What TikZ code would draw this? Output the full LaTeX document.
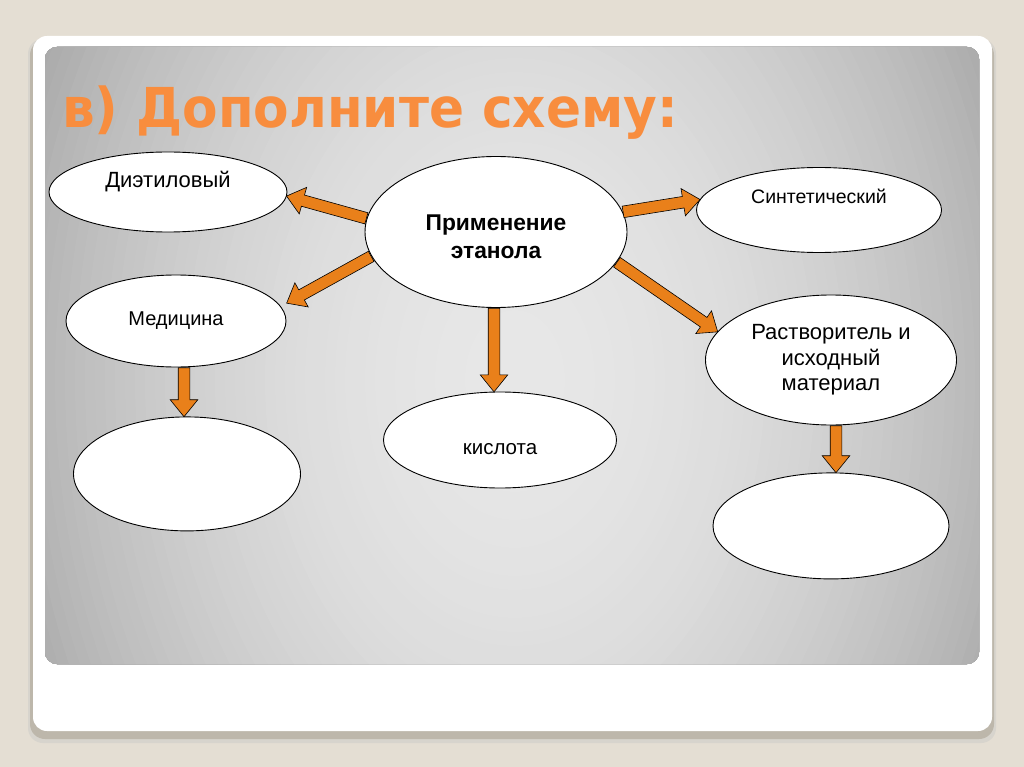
\documentclass[tikz,border=0pt]{standalone}
\usepackage{fontspec}
\setmainfont{Liberation Sans}
\newfontfamily\titlefont[FakeStretch=0.94]{DejaVu Sans}
\usetikzlibrary{shapes, arrows.meta, positioning, calc}

\definecolor{slidebg}{HTML}{E4DED3}
\definecolor{cardshadow}{HTML}{BDB7AB}
\definecolor{arroworange}{HTML}{E9801A}
\definecolor{titleorange}{HTML}{F88D3E}
\definecolor{panelA}{HTML}{E7E7E7}
\definecolor{panelD}{HTML}{A4A4A4}

\tikzset{
  bubble/.style={draw, ellipse, fill=white, line width=0.9pt,
    inner sep=0pt, align=center, font=\fontsize{20}{25.5}\selectfont},
  blockarr/.style={single arrow, draw=black, line width=0.6pt,
    fill=arroworange, inner xsep=0pt, inner ysep=5.5pt, minimum width=0pt,
    single arrow head extend=8pt, single arrow tip angle=78}
}

% block arrow from #1 to #2
\newcommand\blockarrow[2]{%
  \path let \p1=(#1), \p2=(#2),
    \n1={atan2(\y2-\y1,\x2-\x1)}, \n2={veclen(\x2-\x1,\y2-\y1)} in
    node[blockarr, anchor=tail, rotate=\n1, minimum height=\n2] at (\p1) {};}

\begin{document}
\begin{tikzpicture}[x=1pt, y=-1pt]
\useasboundingbox (0,0) rectangle (1024,767);

% slide
\fill[slidebg] (0,0) rectangle (1024,767);
\fill[cardshadow!60, rounded corners=15pt] (28,39) rectangle (996,743);
\fill[cardshadow, rounded corners=15pt] (30,40) rectangle (994,739);
\fill[white, rounded corners=14pt] (33,36) rectangle (992,731);
\begin{scope}
  \clip[rounded corners=12pt] (45,47) rectangle (979,664);
  \fill[panelD] (45,47) rectangle (979,664);
  \foreach \i in {0,...,61} {
    \pgfmathsetmacro\r{620-10*\i}
    \pgfmathsetmacro\p{min(100,100*(\r/560)^2)}
    \fill[panelD!\p!panelA] (515,380) ellipse [x radius=\r, y radius=1.4*\r];
  }
\end{scope}

\node[anchor=base west, inner sep=0pt, text=titleorange,
  font=\titlefont\bfseries\fontsize{55}{60}\selectfont] (title) at (62,128)
  {в) Дополните схему:};

\node[bubble, minimum width=262pt, minimum height=151pt,
  font=\bfseries\fontsize{22.8}{28}\selectfont] (main) at (496,232)
  {\rule{0pt}{26pt}Применение\\этанола};

\node[bubble, minimum width=238pt, minimum height=80pt,
  font=\fontsize{22}{25.5}\selectfont] (diet) at (168,192)
  {Диэтиловый\\~};
\node[bubble, minimum width=220pt, minimum height=92pt] (med) at (176,321)
  {Медицина};
\node[bubble, minimum width=227pt, minimum height=114pt,
  below=49pt of med, xshift=11pt] (medout) {};

\node[bubble, minimum width=245pt, minimum height=85pt,
  font=\fontsize{19.5}{27}\selectfont] (synth) at (819,210)
  {Синтетический\\~};
\node[bubble, minimum width=251pt, minimum height=130pt,
  font=\fontsize{22}{25.5}\selectfont] (solv) at (831,360)
  {Растворитель и\\исходный\\материал};
\node[bubble, minimum width=236pt, minimum height=106pt,
  below=47pt of solv] (solvout) {};

\node[bubble, minimum width=233pt, minimum height=96pt,
  font=\fontsize{20.5}{25}\selectfont] (acid) at (500,440)
  {\rule{0pt}{29pt}кислота};

% Arrows
\blockarrow{main.174}{diet.-2}
\blockarrow{main.191}{[xshift=9pt]med.10}
\blockarrow{main.9}{synth.175}
\blockarrow{main.-14}{solv.166}
\blockarrow{[xshift=-2pt]main.south}{[xshift=-2pt]main.south |- acid.north}
\blockarrow{[xshift=8pt]med.south}{[xshift=8pt]med.south |- medout.north}
\blockarrow{[xshift=5pt]solv.south}{[xshift=5pt]solv.south |- solvout.north}
\end{tikzpicture}
\end{document}
